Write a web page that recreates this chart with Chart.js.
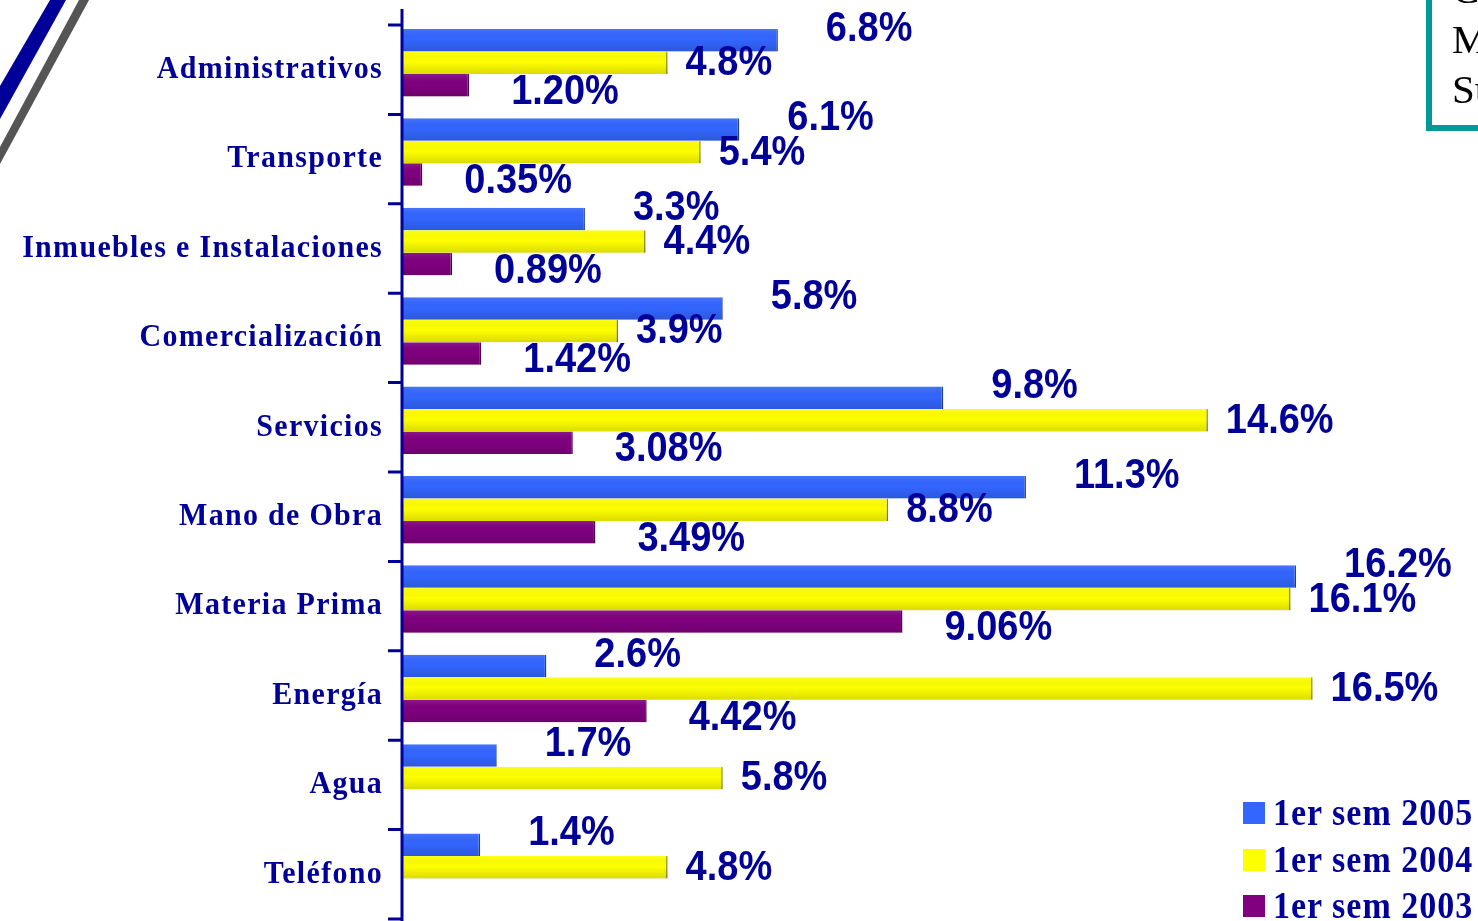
<!DOCTYPE html>
<html lang="es">
  <head>
    <meta charset="UTF-8" />
    <title>Costos por rubro</title>
    <script src="https://cdn.jsdelivr.net/npm/chart.js"></script>
    <style>
      html, body { margin: 0; padding: 0; background: #fff; overflow: hidden; }
      #wrap { position: relative; width: 1478px; height: 921px; overflow: hidden; }
      #chart { position: absolute; left: 0; top: 0; }
      #stripes { position: absolute; left: 0; top: 0; }
      #box {
        position: absolute; left: 1426px; top: -42px; width: 120px; height: 173px;
        border: 6px solid #009999; box-sizing: border-box;
        font-family: "Liberation Serif", serif; font-size: 41px; line-height: 50px;
        color: #000; padding: 0 0 0 20px; overflow: hidden;
      }
      #legend {
        position: absolute; left: 1243px; top: 790px;
        font-family: "Liberation Serif", serif; font-weight: bold; font-size: 34px;
        color: #000099; letter-spacing: 1px;
      }
      #legend .row { display: flex; align-items: center; height: 46.5px; white-space: nowrap; }
      #legend .txt { display: inline-block; transform: scaleY(1.12); }
      #legend .sw { width: 22px; height: 22px; margin-right: 8px; flex: none; }
    </style>
  </head>
  <body>
    <div id="wrap">
      <canvas id="stripes" width="120" height="180"></canvas>
      <canvas id="chart" width="1478" height="921"></canvas>
      <div id="box">C<br />M<br />Su</div>
      <div id="legend"></div>
    </div>

    <script>
      const CATEGORIES = [
        "Administrativos",
        "Transporte",
        "Inmuebles e Instalaciones",
        "Comercialización",
        "Servicios",
        "Mano de Obra",
        "Materia Prima",
        "Energía",
        "Agua",
        "Teléfono",
      ];

      const SEM_2005 = [6.8, 6.1, 3.3, 5.8, 9.8, 11.3, 16.2, 2.6, 1.7, 1.4];
      const SEM_2004 = [4.8, 5.4, 4.4, 3.9, 14.6, 8.8, 16.1, 16.5, 5.8, 4.8];
      const SEM_2003 = [1.2, 0.35, 0.89, 1.42, 3.08, 3.49, 9.06, 4.42, null, null];

      const NAVY = "#000099";
      const TICK_SHIFT = 7; // las marcas del eje van un poco más abajo que las bandas

      // franjas decorativas de la esquina
      const sctx = document.getElementById("stripes").getContext("2d");
      sctx.fillStyle = "#000099";
      sctx.beginPath();
      sctx.moveTo(50, 0); sctx.lineTo(66, 0); sctx.lineTo(0, 119); sctx.lineTo(0, 86);
      sctx.fill();
      sctx.fillStyle = "#555555";
      sctx.beginPath();
      sctx.moveTo(79, 0); sctx.lineTo(89, 0); sctx.lineTo(0, 164); sctx.lineTo(0, 147);
      sctx.fill();

      // eje vertical, marcas y nombres de categoría
      const axisPlugin = {
        id: "axisLine",
        afterDraw(chart) {
          const { ctx, chartArea: a } = chart;
          const yScale = chart.scales.y;
          const n = CATEGORIES.length;
          ctx.save();
          ctx.strokeStyle = NAVY;
          ctx.lineWidth = 3;
          ctx.beginPath();
          ctx.moveTo(a.left - 1, 9);
          ctx.lineTo(a.left - 1, 921);
          for (let i = 0; i <= n; i++) {
            const yy = a.top + (i * (a.bottom - a.top)) / n + TICK_SHIFT;
            ctx.moveTo(a.left - 15, yy);
            ctx.lineTo(a.left - 1, yy);
          }
          ctx.stroke();

          ctx.fillStyle = NAVY;
          ctx.font = "bold 30px 'Liberation Serif', 'Times New Roman', serif";
          ctx.letterSpacing = "1.3px";
          ctx.textAlign = "right";
          ctx.textBaseline = "middle";
          CATEGORIES.forEach((c, i) => {
            ctx.save();
            ctx.translate(a.left - 20, yScale.getPixelForValue(i) + 7);
            ctx.scale(1, 1.08);
            ctx.fillText(c, 0, 0);
            ctx.restore();
          });
          ctx.restore();
        },
      };

      // sombreado de las barras y etiquetas de valores
      const barPlugin = {
        id: "barExtras",
        afterDatasetsDraw(chart) {
          const ctx = chart.ctx;
          ctx.save();
          chart.data.datasets.forEach((ds, di) => {
            const meta = chart.getDatasetMeta(di);
            meta.data.forEach((el, i) => {
              const v = ds.data[i];
              if (v == null) return;
              const { x, y, base, height } = el.getProps(["x", "y", "base", "height"], true);
              const top = y - height / 2;
              const g = ctx.createLinearGradient(0, top, 0, top + height);
              g.addColorStop(0, "rgba(255,255,255,0.10)");
              g.addColorStop(0.45, "rgba(0,0,0,0)");
              g.addColorStop(1, "rgba(0,0,0,0.14)");
              ctx.fillStyle = g;
              ctx.fillRect(base, top, x - base, height);
            });
          });
          ctx.font = "bold 38px 'Liberation Sans', Arial, sans-serif";
          ctx.fillStyle = NAVY;
          ctx.textAlign = "left";
          ctx.textBaseline = "middle";
          chart.data.datasets.forEach((ds, di) => {
            const meta = chart.getDatasetMeta(di);
            meta.data.forEach((el, i) => {
              const v = ds.data[i];
              if (v == null) return;
              const txt = v.toFixed(ds.decimals) + "%";
              ctx.save();
              ctx.translate(el.x + ds.labelDx, el.y + ds.labelDy);
              ctx.scale(1, 1.1);
              ctx.fillText(txt, 0, 0);
              ctx.restore();
            });
          });
          ctx.restore();
        },
      };

      const ctx = document.getElementById("chart").getContext("2d");
      const chart = new Chart(ctx, {
        type: "bar",
        data: {
          labels: CATEGORIES,
          datasets: [
            {
              label: "1er sem 2005",
              data: SEM_2005,
              backgroundColor: "#3366ff",
              borderColor: "#1f3f9f",
              borderWidth: { top: 0, bottom: 0, left: 0, right: 1.5 },
              borderSkipped: false,
              decimals: 1,
              labelDx: 48,
              labelDy: -11,
            },
            {
              label: "1er sem 2004",
              data: SEM_2004,
              backgroundColor: "#ffff00",
              borderColor: "#8a8a00",
              borderWidth: { top: 0, bottom: 0, left: 0, right: 1.5 },
              borderSkipped: false,
              decimals: 1,
              labelDx: 18,
              labelDy: 1,
            },
            {
              label: "1er sem 2003",
              data: SEM_2003,
              backgroundColor: "#800080",
              borderColor: "#4a004a",
              borderWidth: { top: 0, bottom: 0, left: 0, right: 1.5 },
              borderSkipped: false,
              decimals: 2,
              labelDx: 42,
              labelDy: 7,
            },
          ],
        },
        options: {
          indexAxis: "y",
          responsive: false,
          animation: false,
          layout: { padding: { top: 18, bottom: 9, left: 0, right: 0 } },
          datasets: { bar: { categoryPercentage: 0.755, barPercentage: 1.0 } },
          plugins: { legend: { display: false }, tooltip: { enabled: false } },
          scales: {
            x: { display: false, min: 0, max: 19.5 },
            y: {
              afterFit(scale) {
                scale.width = 403;
                scale.paddingTop = 0;
                scale.paddingBottom = 0;
              },
              grid: { display: false, drawTicks: false },
              border: { display: false },
              ticks: { display: false },
            },
          },
        },
        plugins: [barPlugin, axisPlugin],
      });

      // leyenda
      const legend = document.getElementById("legend");
      chart.data.datasets.forEach((ds) => {
        const row = document.createElement("div");
        row.className = "row";
        const sw = document.createElement("span");
        sw.className = "sw";
        sw.style.background = ds.backgroundColor;
        const txt = document.createElement("span");
        txt.className = "txt";
        txt.textContent = ds.label;
        row.appendChild(sw);
        row.appendChild(txt);
        legend.appendChild(row);
      });
    </script>
  </body>
</html>
